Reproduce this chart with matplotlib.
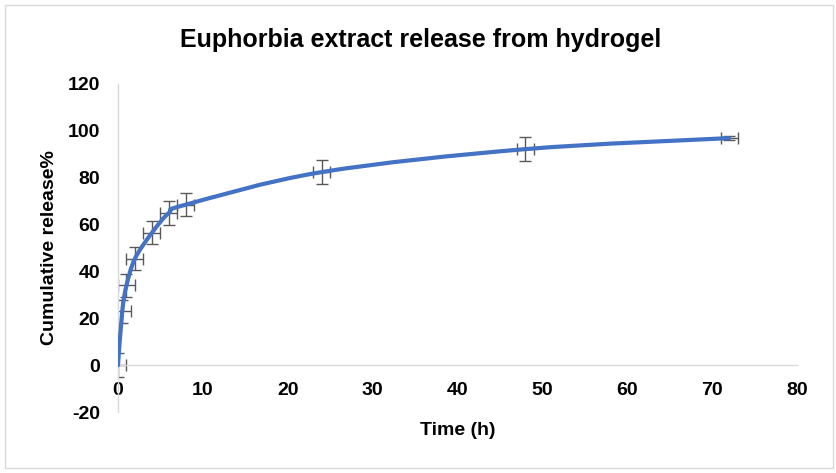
import matplotlib
matplotlib.use("Agg")
import matplotlib.pyplot as plt
from matplotlib.path import Path
from matplotlib.patches import PathPatch, Rectangle
from matplotlib.transforms import IdentityTransform
import numpy as np

plt.rcParams['font.family'] = ['Liberation Sans', 'DejaVu Sans']
plt.rcParams['axes.unicode_minus'] = False

# release data
time_h = [0, 0.5, 1, 2, 4, 6, 8, 24, 48, 72]
release = [0, 23, 34, 45.5, 56.5, 65, 68.5, 82.4, 92.2, 96.9]
release_err = [5, 5, 5, 5, 5, 5, 5, 5, 5, 1]
time_err = [1, 1, 1, 1, 1, 1, 1, 1, 1, 1]

x_ticks = [0, 10, 20, 30, 40, 50, 60, 70, 80]
y_ticks = [-20, 0, 20, 40, 60, 80, 100, 120]

blue = '#4472C4'
grey_axis = '#D9D9D9'

fig = plt.figure(figsize=(8.37, 4.73), dpi=100)
ax = fig.add_axes([118/837, 1 - 412/473, (797 - 118)/837, (412 - 84)/473])

ax.set_xlim(0, 80)
ax.set_ylim(-20, 120)

# error bars under the line
ax.errorbar(time_h, release, yerr=release_err, xerr=time_err, fmt='none',
            ecolor='#595959', elinewidth=1, capsize=4, capthick=1, zorder=2)

# smoothed line (Catmull-Rom style, done in screen space like Excel)
fig.canvas.draw()
pts = ax.transData.transform(np.column_stack([time_h, release]))
verts = [pts[0]]
codes = [Path.MOVETO]
n = len(pts)
for i in range(n - 1):
    p0 = pts[i - 1] if i > 0 else pts[i]
    p1 = pts[i]
    p2 = pts[i + 1]
    p3 = pts[i + 2] if i + 2 < n else pts[i + 1]
    c1 = p1 + (p2 - p0) / 6
    c2 = p2 - (p3 - p1) / 6
    verts += [c1, c2, p2]
    codes += [Path.CURVE4] * 3
patch = PathPatch(Path(verts, codes), transform=IdentityTransform(),
                  facecolor='none', edgecolor=blue, lw=3,
                  capstyle='round', joinstyle='round', zorder=3)
ax.add_artist(patch)
patch.set_clip_path(None)

ax.set_xticks(x_ticks)
ax.set_yticks(y_ticks)
for s in ['top', 'right']:
    ax.spines[s].set_visible(False)
ax.spines['bottom'].set_position(('data', 0))
for s in ['left', 'bottom']:
    ax.spines[s].set_color(grey_axis)
    ax.spines[s].set_linewidth(1)
ax.tick_params(axis='y', length=0, labelsize=14, pad=13)
ax.tick_params(axis='x', length=0, labelsize=14, pad=12)
for lab in ax.get_xticklabels() + ax.get_yticklabels():
    lab.set_fontweight('bold')

ax.set_ylabel('Cumulative release%', fontsize=14, fontweight='bold', labelpad=7)
fig.text(458/837, 1 - 430/473, 'Time (h)', ha='center', va='center',
         fontsize=14, fontweight='bold')

fig.text(421/837, 1 - 40/473, 'Euphorbia extract release from hydrogel',
         ha='center', va='center', fontsize=18, fontweight='bold')

fig.patches.append(Rectangle((5/837, 5/473), 828/837, 463/473,
                             transform=fig.transFigure, facecolor='none',
                             edgecolor=grey_axis, lw=1))

fig.savefig('out.png', dpi=100)
